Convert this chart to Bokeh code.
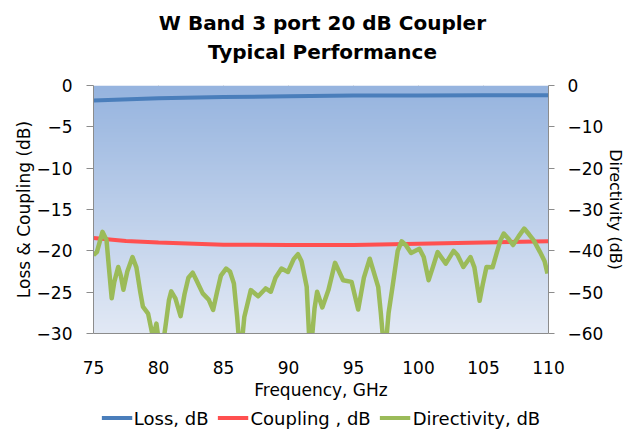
import numpy as np
from bokeh.plotting import figure
from bokeh.layouts import column
from bokeh.models import Range1d, LinearAxis, Legend, LegendItem, SingleIntervalTicker, Label
from bokeh.embed import file_html
from bokeh.resources import INLINE

# ---- data ----
title_lines = ["W Band 3 port 20 dB Coupler", "Typical Performance"]

freq_loss = [75, 80, 85, 90, 95, 100, 105, 110]
loss_db = [-1.8, -1.55, -1.4, -1.3, -1.22, -1.2, -1.18, -1.17]

freq_coup = [75, 77.5, 80, 85, 90, 95, 100, 105, 110]
coupling_db = [-18.45, -18.8, -19.0, -19.25, -19.3, -19.3, -19.15, -19.0, -18.85]

freq_dir = [75.0, 75.26, 75.69, 76.0, 76.2, 76.4, 76.6, 76.9, 77.1, 77.3, 77.6, 78.0, 78.3,
            78.6, 78.8, 79.2, 79.58, 79.84, 80.2, 80.6, 80.8, 80.98, 81.3, 81.7, 82.0, 82.3,
            82.63, 82.9, 83.4, 83.86, 84.2, 84.5, 84.8, 85.2, 85.5, 85.8, 86.05, 86.3, 86.6,
            87.1, 87.67, 88.24, 88.64, 89.0, 89.46, 89.96, 90.4, 90.73, 91.0, 91.4, 91.67,
            92.0, 92.2, 92.6, 93.07, 93.58, 94.2, 94.85, 95.36, 95.8, 96.25, 96.9, 97.1,
            97.4, 97.7, 98.0, 98.4, 98.7, 99.0, 99.43, 100.07, 100.4, 100.78, 101.1, 101.47,
            102.1, 102.7, 103.0, 103.45, 104.0, 104.3, 104.7, 104.95, 105.23, 105.7, 106.0,
            106.3, 106.56, 106.9, 107.27, 107.7, 108.13, 108.5, 108.85, 109.35, 109.7, 109.92]
dir_db = [-41.0, -40.3, -35.4, -37.4, -44.5, -51.5, -47.5, -43.9, -46.0, -49.4, -45.0, -41.5, -44.0,
          -50.0, -53.5, -55.2, -61.0, -57.6, -66.0, -56.8, -52.0, -49.8, -51.5, -55.8, -50.5, -46.5,
          -45.3, -47.0, -50.3, -51.8, -54.3, -50.0, -46.0, -44.3, -45.0, -47.9, -56.0, -66.0, -56.0,
          -49.5, -51.0, -49.1, -49.9, -46.5, -44.3, -45.1, -42.0, -40.8, -42.5, -48.7, -66.0,
          -54.0, -49.9, -53.7, -49.5, -42.9, -47.1, -47.5, -54.2, -46.5, -41.9, -48.7, -55.0,
          -66.0, -55.0, -48.7, -40.0, -37.7, -38.5, -40.5, -39.5, -41.5, -47.1, -44.0, -40.3,
          -43.1, -40.0, -41.0, -43.9, -41.5, -44.0, -52.1, -48.0, -43.9, -44.0, -40.7,
          -37.5, -35.8, -37.0, -38.6, -36.5, -34.6, -36.0, -37.4, -40.3, -42.5, -45.5]

series_names = ["Loss, dB", "Coupling , dB", "Directivity, dB"]
series_colors = ["#4A7EBB", "#FF5050", "#9BBB59"]

x_start, x_end, x_step = 75, 110, 5
left_start, left_end, left_step = -30, 0, 5
right_start, right_end, right_step = -60, 0, 10

FONT = "DejaVu Sans"
GRID = "#8C8C8C"
W = 628

# ---- header strip with the two title lines (pixel-sized ranges) ----
HDR_H = 70
hdr = figure(width=W, height=HDR_H, output_backend="svg", toolbar_location=None,
             x_range=Range1d(0, W), y_range=Range1d(0, HDR_H), min_border=0)
hdr.axis.visible = False
hdr.grid.visible = False
hdr.outline_line_color = None
for txt, yy in zip(title_lines, [HDR_H - 22, HDR_H - 51]):
    hdr.add_layout(Label(x=316, y=yy, text=txt, text_align="center", text_baseline="middle",
                         text_font=FONT, text_font_size="20px", text_font_style="bold",
                         text_color="black"))

# ---- main chart ----
p = figure(width=W, height=335, output_backend="svg", toolbar_location=None,
           x_range=Range1d(x_start, x_end), y_range=Range1d(left_start, left_end),
           min_border_left=93, min_border_right=76, min_border_top=15, min_border_bottom=72)
p.title.visible = False
p.title.standoff = 0
p.extra_y_ranges = {"dir": Range1d(right_start, right_end)}
p.outline_line_color = None
p.background_fill_color = "white"

# gradient background of the plot area
n = 256
top = np.array([150, 180, 223], dtype=float)
bot = np.array([226, 233, 245], dtype=float)
img = np.empty((n, 1), dtype=np.uint32)
view = img.view(dtype=np.uint8).reshape((n, 1, 4))
for i in range(n):
    t = i / (n - 1)
    c = bot * (1 - t) + top * t
    view[i, 0, 0] = int(c[0]); view[i, 0, 1] = int(c[1]); view[i, 0, 2] = int(c[2]); view[i, 0, 3] = 255
p.image_rgba(image=[img], x=x_start, y=left_start, dw=x_end - x_start, dh=left_end - left_start)

# grids
p.xgrid.ticker = SingleIntervalTicker(interval=x_step)
p.ygrid.ticker = SingleIntervalTicker(interval=left_step)
for g in (p.xgrid, p.ygrid):
    g.grid_line_color = GRID
    g.grid_line_width = 1

# x axis
xa = p.xaxis[0]
xa.ticker = SingleIntervalTicker(interval=x_step)
xa.axis_label = "Frequency, GHz"
xa.axis_line_color = GRID
xa.major_tick_out = 0
xa.major_tick_in = 0
xa.minor_tick_out = 0
xa.minor_tick_in = 0
xa.major_label_standoff = 27
xa.axis_label_standoff = 3

# left axis
ya = p.yaxis[0]
ya.ticker = SingleIntervalTicker(interval=left_step)
ya.axis_label = "Loss & Coupling (dB)"
ya.axis_line_color = GRID
ya.major_tick_line_color = GRID
ya.major_tick_out = 7
ya.major_tick_in = 0
ya.minor_tick_out = 0
ya.minor_tick_in = 0
ya.major_label_standoff = 14
ya.axis_label_standoff = 0

# right axis
ra = LinearAxis(y_range_name="dir", ticker=SingleIntervalTicker(interval=right_step),
                axis_label="Directivity (dB)")
ra.axis_line_color = GRID
ra.major_tick_line_color = GRID
ra.major_tick_out = 6
ra.major_tick_in = 0
ra.minor_tick_out = 0
ra.minor_tick_in = 0
ra.major_label_standoff = 13
ra.axis_label_standoff = 0
p.add_layout(ra, "right")

for ax in (xa, ya, ra):
    ax.major_label_text_font = FONT
    ax.major_label_text_font_size = "17px"
    ax.major_label_text_color = "black"
    ax.axis_label_text_font = FONT
    ax.axis_label_text_font_style = "normal"
    ax.axis_label_text_color = "black"
xa.axis_label_text_font_size = "17px"
ya.axis_label_text_font_size = "17px"
ra.axis_label_text_font_size = "16px"

# series
p.line(freq_loss, loss_db, line_color=series_colors[0], line_width=4)
p.line(freq_coup, coupling_db, line_color=series_colors[1], line_width=4)
p.line(freq_dir, dir_db, line_color=series_colors[2], line_width=4.5, y_range_name="dir",
       line_join="round")

# ---- legend strip below the chart (its lines lie outside this strip's visible range) ----
pl = figure(width=W, height=25, output_backend="svg", toolbar_location=None,
            x_range=Range1d(0, 1), y_range=Range1d(0, 1), min_border=0)
pl.axis.visible = False
pl.grid.visible = False
pl.outline_line_color = None
items = []
for name, col, xs, ys in zip(series_names, series_colors,
                             [freq_loss, freq_coup, freq_dir], [loss_db, coupling_db, dir_db]):
    r = pl.line(xs, ys, line_color=col, line_width=4)
    items.append(LegendItem(label=name, renderers=[r]))
legend = Legend(items=items, orientation="horizontal", location="center")
legend.label_text_font = FONT
legend.label_text_font_size = "18px"
legend.label_text_color = "black"
legend.glyph_width = 31
legend.label_standoff = 2
legend.spacing = 9
legend.padding = 0
legend.margin = 0
legend.border_line_color = None
legend.background_fill_alpha = 0
pl.add_layout(legend)

layout = column(hdr, p, pl, spacing=0)
open("out.html", "w").write(file_html(layout, INLINE))
